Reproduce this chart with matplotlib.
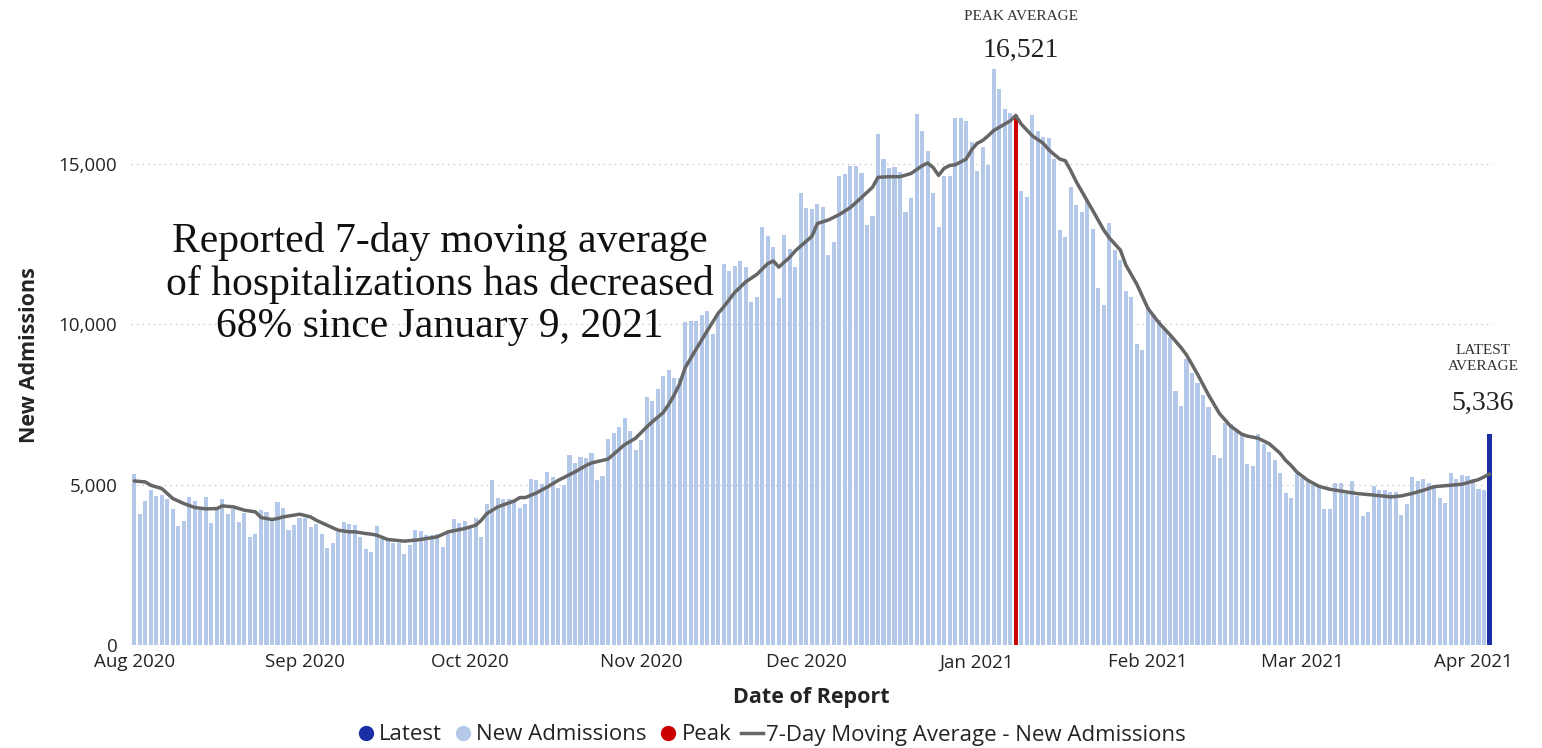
import matplotlib
matplotlib.use("Agg")
import matplotlib.pyplot as plt
import matplotlib.dates as mdates
from matplotlib.lines import Line2D
from matplotlib.ticker import FuncFormatter
import numpy as np
import pandas as pd

# Daily new admissions, one value per day starting 2020-08-01
admissions = [
    # Aug 2020
    5348, 4081, 4486, 4849, 4662, 4683, 4569, 4236, 3717, 3873,
    4610, 4496, 4205, 4610, 3800, 4247, 4569, 4091, 4236, 3831,
    4122, 3354, 3468, 4205, 4164, 3977, 4475, 4288, 3603, 3759,
    3956,
    # Sep 2020
    3956, 3686, 3790, 3478, 3032, 3167, 3510, 3831, 3790, 3759,
    3354, 2990, 2887, 3728, 3292, 3271, 3188, 3188, 2835, 3115,
    3582, 3562, 3437, 3447, 3478, 3063, 3531, 3925, 3821, 3883,
    # Oct 2020
    3686, 3977, 3375, 4413, 5140, 4579, 4548, 4569, 4465, 4278,
    4413, 5192, 5140, 5036, 5400, 5244, 4911, 5005, 5940, 5680,
    5867, 5825, 6002, 5140, 5265, 6417, 6614, 6801, 7081, 6666,
    6095,
    # Nov 2020
    6400, 7750, 7600, 7980, 8380, 8566, 8327, 8338, 10072, 10113,
    10113, 10280, 10420, 9700, 10300, 11889, 11655, 11820, 11980, 11806,
    10695, 10871, 13052, 12750, 12419, 10820, 12792, 12357, 11806, 14101,
    # Dec 2020
    13633, 13592, 13747, 13650, 12169, 12585, 14641, 14693, 14942, 14942,
    14724, 13093, 13395, 15939, 15150, 14869, 14900, 14765, 13519, 13934,
    16562, 16021, 15398, 14090, 13031, 14641, 14641, 16437, 16437, 16354,
    15679,
    # Jan 2021
    14775, 15523, 14973, 17963, 17361, 16717, 16603, 16400, 14151, 13986,
    16541, 16042, 15855, 15803, 15150, 12948, 12740, 14298, 13737, 13519,
    13883, 12980, 11142, 10622, 13167, 12326, 12024, 11058, 10871, 9376,
    9210,
    # Feb 2021
    10539, 10331, 10144, 9895, 9604, 7912, 7455, 8930, 8494, 8172,
    7788, 7424, 5918, 5846, 6936, 6905, 6718, 6542, 5638, 5597,
    6594, 6282, 6022, 5784, 5368, 4745, 4589, 5347,
    # Mar 2021
    5212, 5088, 4984, 4953, 4236, 4236, 5057, 5057, 4724, 5119,
    4651, 4028, 4153, 4953, 4828, 4828, 4787, 4766, 4050, 4413,
    5233, 5109, 5171, 5057, 4901, 4600, 4433, 5379, 5171, 5316,
    5265,
    # Apr 2021
    5192, 4859, 4849,
]

# 7-day moving average (day offset from Aug 1, value)
ma_day = [0, 2, 3, 5, 7, 9, 11, 13, 15, 16, 18, 20, 22, 23, 25, 26, 27, 29, 30,
          32, 33, 35, 37, 39, 40, 42, 43, 44, 46, 49, 51, 52, 55, 57, 60, 62,
          63, 64, 66, 69, 70, 71, 73, 75, 77, 80, 82, 83, 86, 89, 91, 93, 94,
          96, 97, 98, 99, 100, 102, 104, 106, 107, 109, 111, 113, 115, 116,
          117, 119, 120, 122, 123, 124, 126, 128, 130, 132, 134, 135, 137,
          139, 141, 143, 144, 145, 146, 147, 148, 149, 151, 152, 153, 154,
          155, 156, 157, 158, 159, 160, 161, 163, 165, 166, 167, 168, 169,
          170, 171, 172, 173, 174, 176, 177, 179, 180, 182, 184, 186, 188,
          190, 191, 193, 195, 197, 199, 201, 202, 204, 206, 208, 209, 210,
          211, 213, 215, 217, 220, 222, 224, 227, 228, 230, 232, 234, 236,
          239, 241, 244, 245, 246]
ma_val = [5118, 5087, 4984, 4880, 4569, 4413, 4288, 4247, 4257, 4340, 4309,
          4205, 4153, 3977, 3914, 3945, 3997, 4050, 4081, 3997, 3893, 3738,
          3582, 3531, 3531, 3478, 3458, 3427, 3292, 3240, 3271, 3292, 3375,
          3531, 3634, 3738, 3893, 4101, 4309, 4496, 4600, 4600, 4745, 4932,
          5140, 5400, 5600, 5680, 5800, 6250, 6450, 6800, 6960, 7250, 7500,
          7800, 8150, 8650, 9230, 9800, 10350, 10550, 11000, 11330, 11560,
          11900, 11980, 11790, 12100, 12300, 12600, 12750, 13150, 13260,
          13430, 13650, 13960, 14280, 14590, 14610, 14610, 14710, 14950,
          15035, 14900, 14650, 14870, 14960, 14980, 15160, 15450, 15650,
          15740, 15887, 16050, 16150, 16250, 16350, 16521, 16251, 15887,
          15650, 15450, 15300, 15160, 15108, 14797, 14450, 14150, 13850,
          13550, 12940, 12700, 12320, 11850, 11250, 10500, 10050, 9680,
          9280, 9050, 8450, 7800, 7216, 6830, 6580, 6520, 6450, 6282, 5980,
          5760, 5600, 5400, 5140, 4953, 4860, 4776, 4724, 4693, 4641, 4620,
          4651, 4730, 4828, 4940, 4984, 5015, 5160, 5244, 5336]

peak_day = 160
peak_value = 16521
latest_day = 246
latest_value = 6573
latest_average = 5336

note = "Reported 7-day moving average\nof hospitalizations has decreased\n68% since January 9, 2021"

bar_color = "#B4C8EA"
line_color = "#666666"
peak_color = "#CC0000"
latest_color = "#1A2FA5"
text_color = "#252423"

start = pd.Timestamp("2020-08-01")
dates = start + pd.to_timedelta(np.arange(len(admissions)), unit="D")
ma_dates = start + pd.to_timedelta(ma_day, unit="D")
peak_date = start + pd.Timedelta(days=peak_day)
latest_date = start + pd.Timedelta(days=latest_day)

plt.rcParams["font.family"] = ["Open Sans", "DejaVu Sans"]

fig = plt.figure(figsize=(15.42, 7.48), dpi=100)
ax = fig.add_axes([0.0851, 0.1377, 0.8830, 0.8142])

ax.bar(dates, admissions, width=0.74, color=bar_color, zorder=2)
ax.bar([peak_date], [peak_value], width=0.74, color=peak_color, zorder=3)
ax.bar([latest_date], [latest_value], width=0.74, color=latest_color, zorder=3)
ax.plot(ma_dates, ma_val, color=line_color, lw=2.5, zorder=4,
        solid_joinstyle="round", solid_capstyle="round")

ax.set_ylim(0, 19000)
ax.set_xlim(mdates.date2num(start) - 0.55, mdates.date2num(latest_date) + 0.6)
ax.set_yticks([0, 5000, 10000, 15000])
ax.yaxis.set_major_formatter(FuncFormatter(lambda v, p: f"{v:,.0f}"))
ax.xaxis.set_major_locator(mdates.MonthLocator())
ax.xaxis.set_major_formatter(mdates.DateFormatter("%b %Y"))
ax.tick_params(axis="both", length=0, labelsize=13.5, labelcolor=text_color)
ax.tick_params(axis="y", pad=10)
ax.tick_params(axis="x", pad=6)
ax.yaxis.grid(True, linestyle=(0, (1, 3)), color="#C8C8C8", lw=1)
ax.set_axisbelow(True)
for s in ax.spines.values():
    s.set_visible(False)

fig.text(0.5262, 1 - 697 / 748, "Date of Report", ha="center", va="center",
         fontsize=15.5, fontweight="bold", color=text_color)
fig.text(30 / 1542, 1 - 355 / 748, "New Admissions", ha="center", va="center",
         rotation=90, fontsize=15.5, fontweight="bold", color=text_color)

serif = ["Liberation Serif", "DejaVu Serif"]
fig.text(440 / 1542, 1 - 284 / 748, note, ha="center", va="center",
         fontsize=30, family=serif, color="#111111", linespacing=1.12)

fig.text(1021 / 1542, 1 - 17 / 748, "PEAK AVERAGE", ha="center", va="center",
         fontsize=11, family=serif, color="#333333")
fig.text(1021 / 1542, 1 - 50 / 748, f"{peak_value:,}", ha="center", va="center",
         fontsize=20, family=serif, color="#222222")
fig.text(1483 / 1542, 1 - 359 / 748, "LATEST\nAVERAGE", ha="center", va="center",
         fontsize=11, family=serif, color="#333333", linespacing=1.3)
fig.text(1483 / 1542, 1 - 403 / 748, f"{latest_average:,}", ha="center",
         va="center", fontsize=20, family=serif, color="#222222")

handles = [
    Line2D([], [], marker="o", ls="", color=latest_color, markersize=10),
    Line2D([], [], marker="o", ls="", color=bar_color, markersize=10),
    Line2D([], [], marker="o", ls="", color=peak_color, markersize=10),
    Line2D([], [], color=line_color, lw=2.5),
]
labels = ["Latest", "New Admissions", "Peak", "7-Day Moving Average - New Admissions"]
fig.legend(handles, labels, loc="center", bbox_to_anchor=(770 / 1542, 1 - 735 / 748),
           ncol=4, frameon=False, fontsize=16, handletextpad=0.1,
           columnspacing=0.45, handlelength=1.0, labelcolor=text_color)

fig.savefig("out.png", dpi=100)
